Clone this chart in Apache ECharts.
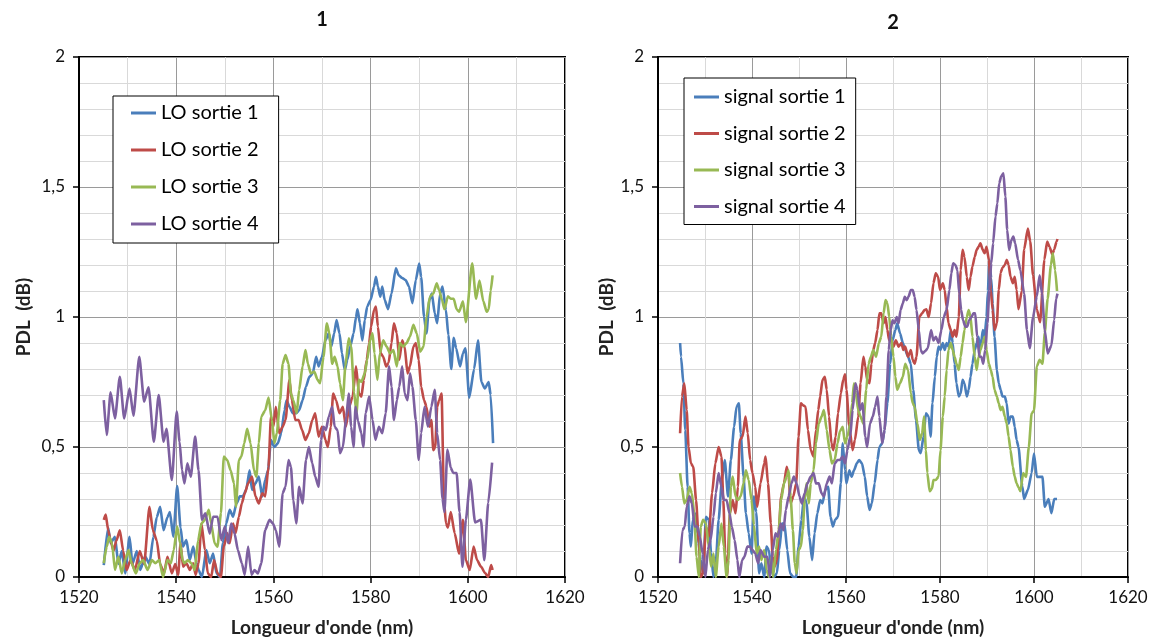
<!DOCTYPE html>
<html>
<head>
<meta charset="utf-8">
<script src="https://cdn.jsdelivr.net/npm/echarts@6/dist/echarts.min.js"></script>
<style>
html,body{margin:0;padding:0;background:#fff;}
#chart{width:1154px;height:642px;}
</style>
</head>
<body>
<div id="chart"></div>
<script>
// ---- axis / label data ----
const panelTitles = ['1', '2'];
const xName = "Longueur d'onde (nm)";
const yName = 'PDL  (dB)';
const loNames = ['LO sortie 1', 'LO sortie 2', 'LO sortie 3', 'LO sortie 4'];
const sigNames = ['signal sortie 1', 'signal sortie 2', 'signal sortie 3', 'signal sortie 4'];

// ---- panel 1 : [wavelength nm, PDL dB] ----
const lo1 = [[1525.1,0.046],[1526.0,0.19],[1526.5,0.13],[1527.4,0.155],[1528.1,0.05],[1528.8,0.10],[1529.5,0.014],[1530.4,0.155],[1531.0,0.05],[1531.9,0.10],[1532.6,0.027],[1533.6,0.08],[1534.5,0.05],[1535.3,0.155],[1536.0,0.23],[1536.7,0.27],[1537.4,0.18],[1538.2,0.23],[1538.7,0.25],[1539.4,0.155],[1540.2,0.35],[1540.9,0.19],[1541.4,0.117],[1542.1,0.142],[1542.8,0.065],[1543.5,0.117],[1544.2,0.053],[1544.6,0.027],[1545.3,0],[1546.2,0.104],[1546.9,0.053],[1547.6,0.09],[1548.3,0.014],[1549.0,0],[1549.6,0.13],[1550.3,0.206],[1551.0,0.258],[1551.7,0.232],[1552.4,0.283],[1553.1,0.31],[1553.7,0.31],[1554.4,0.335],[1555.1,0.41],[1555.6,0.335],[1556.3,0.36],[1557.0,0.386],[1557.7,0.31],[1558.3,0.373],[1558.9,0.41],[1559.5,0.527],[1560.2,0.5],[1560.9,0.514],[1561.6,0.553],[1562.3,0.642],[1562.7,0.68],[1563.3,0.655],[1564.0,0.63],[1564.7,0.63],[1565.3,0.642],[1566.0,0.68],[1566.7,0.732],[1567.4,0.77],[1568.1,0.783],[1568.8,0.847],[1569.3,0.81],[1570.0,0.847],[1570.7,0.91],[1571.4,0.937],[1571.9,0.886],[1572.5,0.937],[1573.0,0.988],[1573.6,0.937],[1574.1,0.86],[1574.7,0.796],[1575.2,0.835],[1575.8,0.886],[1576.5,0.937],[1577.0,1.0],[1577.3,1.03],[1577.8,0.976],[1578.3,0.91],[1578.8,0.988],[1579.3,1.04],[1580.0,1.065],[1580.7,1.117],[1581.1,1.155],[1581.5,1.117],[1582.0,1.078],[1582.4,1.117],[1582.9,1.065],[1583.6,1.03],[1584.3,1.09],[1585.2,1.187],[1585.8,1.16],[1586.5,1.15],[1587.2,1.142],[1587.9,1.117],[1588.6,1.053],[1589.3,1.142],[1590.0,1.206],[1590.4,1.155],[1591.0,1.0],[1591.5,0.937],[1592.1,1.065],[1592.6,1.09],[1593.2,1.014],[1593.7,0.976],[1594.3,1.09],[1594.8,1.117],[1595.5,1.027],[1596.0,0.93],[1596.6,0.80],[1597.1,0.92],[1597.6,0.88],[1598.4,0.81],[1599.0,0.86],[1599.5,0.88],[1600.3,0.69],[1601.3,0.80],[1602.1,0.91],[1602.8,0.75],[1603.5,0.725],[1604.3,0.75],[1604.7,0.70],[1605.2,0.515]];

const lo2 = [[1525.1,0.22],[1525.5,0.24],[1526.0,0.18],[1526.5,0.14],[1527.1,0.10],[1527.7,0.14],[1528.4,0.18],[1529.1,0.10],[1529.8,0.027],[1530.6,0.065],[1531.5,0.027],[1532.5,0.10],[1533.4,0.05],[1534.5,0.27],[1535.2,0.18],[1536.0,0.14],[1536.7,0.05],[1537.5,0.014],[1538.2,0.078],[1539.1,0.014],[1539.8,0.05],[1540.4,0.008],[1540.9,0.13],[1541.4,0.04],[1542.1,0.053],[1542.8,0.027],[1543.5,0.053],[1544.0,0.008],[1544.6,0.053],[1545.2,0.206],[1545.9,0.104],[1546.5,0.014],[1547.2,0],[1547.8,0.065],[1548.5,0.014],[1549.2,0],[1549.8,0.117],[1550.5,0.168],[1551.0,0.13],[1551.7,0.206],[1552.2,0.168],[1552.9,0.232],[1553.5,0.283],[1554.1,0.322],[1554.8,0.36],[1555.6,0.386],[1556.3,0.31],[1557.0,0.283],[1557.7,0.322],[1558.3,0.31],[1559.0,0.424],[1559.5,0.617],[1560.0,0.578],[1560.5,0.655],[1561.2,0.553],[1561.9,0.578],[1562.5,0.604],[1563.3,0.758],[1563.8,0.68],[1564.5,0.604],[1565.2,0.604],[1565.9,0.565],[1566.6,0.527],[1567.3,0.553],[1568.0,0.604],[1568.6,0.63],[1569.3,0.54],[1570.0,0.578],[1570.7,0.527],[1571.2,0.5],[1571.8,0.578],[1572.3,0.706],[1572.9,0.68],[1573.6,0.63],[1574.3,0.655],[1574.9,0.578],[1575.6,0.655],[1576.3,0.694],[1577.0,0.81],[1577.6,0.706],[1578.1,0.694],[1578.6,0.758],[1579.2,0.835],[1579.7,0.9],[1580.1,0.963],[1580.7,1.027],[1581.1,1.04],[1581.5,0.963],[1582.1,0.86],[1582.6,0.847],[1583.2,0.81],[1583.7,0.824],[1584.3,0.9],[1584.8,0.976],[1585.4,0.937],[1585.9,0.835],[1586.5,0.91],[1587.0,0.886],[1587.6,0.783],[1588.1,0.81],[1588.8,0.886],[1589.3,0.9],[1589.9,0.835],[1590.4,0.732],[1591.0,0.68],[1591.5,0.655],[1592.1,0.578],[1592.5,0.604],[1592.9,0.488],[1593.3,0.5],[1593.7,0.655],[1594.1,0.68],[1594.6,0.706],[1595.1,0.296],[1595.5,0.206],[1595.9,0.19],[1596.5,0.25],[1597.3,0.168],[1598.2,0.09],[1599.0,0.22],[1599.6,0.065],[1600.4,0.027],[1601.2,0.117],[1601.9,0.065],[1602.7,0.04],[1603.6,0.014],[1604.2,0.0],[1604.8,0.046],[1605.1,0.027]];

const lo3 = [[1525.1,0.053],[1525.7,0.117],[1526.2,0.155],[1526.8,0.13],[1527.4,0.027],[1528.1,0.078],[1528.8,0.014],[1529.5,0.065],[1530.2,0.104],[1530.8,0.053],[1531.7,0.014],[1532.5,0.053],[1533.2,0.065],[1534.1,0.027],[1535.0,0.065],[1535.7,0.053],[1536.5,0.065],[1537.3,0],[1538.2,0.065],[1538.9,0.053],[1539.5,0.104],[1540.2,0.194],[1540.8,0.13],[1541.3,0.065],[1541.7,0.053],[1542.4,0.065],[1543.1,0.053],[1543.8,0.027],[1544.5,0.14],[1545.2,0.206],[1545.9,0.22],[1546.7,0.258],[1547.2,0.206],[1547.9,0.13],[1548.5,0.117],[1549.2,0.245],[1549.8,0.463],[1550.5,0.45],[1551.2,0.41],[1551.9,0.36],[1552.3,0.27],[1552.9,0.45],[1553.4,0.463],[1554.0,0.514],[1554.6,0.57],[1555.3,0.514],[1556.0,0.41],[1556.5,0.386],[1557.0,0.514],[1557.5,0.617],[1558.3,0.64],[1559.0,0.69],[1559.7,0.604],[1560.2,0.514],[1560.7,0.553],[1561.4,0.68],[1561.9,0.82],[1562.5,0.854],[1563.1,0.82],[1563.6,0.706],[1564.1,0.68],[1564.8,0.63],[1565.3,0.72],[1566.0,0.81],[1566.6,0.873],[1567.1,0.82],[1567.7,0.783],[1568.4,0.79],[1569.1,0.758],[1569.6,0.745],[1570.3,0.847],[1571.0,0.976],[1571.5,0.937],[1572.1,0.82],[1572.6,0.847],[1573.2,0.81],[1573.7,0.745],[1574.3,0.68],[1574.8,0.81],[1575.5,0.918],[1576.0,0.886],[1576.6,0.71],[1577.1,0.63],[1577.6,0.758],[1578.1,0.75],[1578.8,0.783],[1579.3,0.835],[1579.9,0.91],[1580.4,0.937],[1580.8,0.86],[1581.4,0.758],[1581.9,0.86],[1582.6,0.91],[1583.3,0.886],[1584.0,0.86],[1584.7,0.873],[1585.4,0.81],[1586.0,0.9],[1586.7,0.886],[1587.4,0.9],[1588.1,0.924],[1588.8,0.97],[1589.5,0.937],[1590.2,0.867],[1590.9,0.886],[1591.5,1.0],[1592.2,1.078],[1592.9,1.09],[1593.6,1.13],[1594.1,1.104],[1594.7,1.065],[1595.2,1.03],[1595.9,1.08],[1596.5,1.07],[1597.1,1.07],[1597.7,1.03],[1598.2,1.02],[1599.0,1.06],[1599.6,0.98],[1600.9,1.207],[1601.7,1.07],[1602.4,1.14],[1603.2,1.06],[1603.9,1.02],[1604.3,1.03],[1604.7,1.1],[1605.1,1.16]];

const lo4 = [[1525.1,0.68],[1525.7,0.546],[1526.5,0.71],[1527.4,0.61],[1528.4,0.77],[1529.3,0.61],[1530.4,0.725],[1531.2,0.62],[1532.4,0.847],[1533.4,0.675],[1534.3,0.73],[1535.4,0.52],[1536.4,0.70],[1537.4,0.52],[1538.0,0.57],[1539.1,0.373],[1540.1,0.636],[1540.7,0.52],[1541.2,0.41],[1541.7,0.36],[1542.3,0.437],[1543.0,0.386],[1543.9,0.54],[1544.6,0.41],[1545.3,0.22],[1546.0,0.245],[1546.9,0.167],[1547.6,0.232],[1548.5,0.232],[1549.3,0.142],[1550.0,0.194],[1550.7,0.13],[1551.3,0.206],[1552.0,0.168],[1552.7,0.103],[1553.5,0.053],[1554.1,0.008],[1554.8,0.117],[1555.5,0.008],[1556.1,0.027],[1556.8,0.014],[1557.5,0.053],[1558.3,0.18],[1559.2,0.22],[1559.9,0.206],[1560.5,0.18],[1561.2,0.117],[1561.9,0.322],[1562.5,0.347],[1563.1,0.45],[1563.6,0.424],[1564.1,0.296],[1564.7,0.206],[1565.3,0.347],[1566.0,0.283],[1566.7,0.45],[1567.3,0.5],[1568.0,0.437],[1568.6,0.386],[1569.3,0.347],[1569.8,0.527],[1570.3,0.578],[1570.8,0.565],[1571.4,0.617],[1572.1,0.655],[1572.6,0.578],[1573.2,0.565],[1573.7,0.476],[1574.3,0.5],[1575.0,0.617],[1575.5,0.706],[1576.0,0.578],[1576.5,0.5],[1576.9,0.655],[1577.4,0.6],[1578.1,0.553],[1578.5,0.5],[1579.0,0.63],[1579.7,0.694],[1580.4,0.604],[1581.0,0.527],[1581.7,0.578],[1582.4,0.553],[1583.1,0.63],[1583.8,0.81],[1584.3,0.732],[1584.8,0.604],[1585.4,0.68],[1585.9,0.732],[1586.5,0.81],[1587.0,0.706],[1587.6,0.68],[1588.1,0.783],[1588.6,0.732],[1589.3,0.604],[1589.9,0.45],[1590.4,0.553],[1591.1,0.655],[1591.8,0.578],[1592.5,0.655],[1593.2,0.72],[1593.7,0.553],[1594.3,0.45],[1594.8,0.3],[1595.2,0.25],[1595.8,0.49],[1596.5,0.42],[1597.0,0.40],[1597.7,0.40],[1598.3,0.25],[1598.9,0.04],[1599.6,0.22],[1600.5,0.375],[1601.5,0.21],[1602.7,0.22],[1603.4,0.065],[1604.2,0.285],[1605.0,0.44]];

// ---- panel 2 : [wavelength nm, PDL dB] ----
const sig1 = [[1524.7,0.9],[1524.9,0.847],[1525.4,0.745],[1525.8,0.565],[1526.3,0.347],[1526.7,0.168],[1527.0,0.117],[1527.4,0.22],[1527.9,0.245],[1528.4,0.168],[1529.1,0.065],[1529.6,0.014],[1530.2,0.232],[1530.8,0.22],[1531.3,0.09],[1531.8,0],[1532.3,0.053],[1532.9,0.22],[1533.6,0.373],[1534.2,0.45],[1534.9,0.31],[1535.5,0.45],[1536.2,0.578],[1536.7,0.655],[1537.2,0.668],[1537.6,0.553],[1538.2,0.386],[1538.7,0.245],[1539.3,0.168],[1539.9,0.09],[1540.4,0.31],[1540.9,0.25],[1541.5,0.014],[1542.0,0.053],[1542.6,0],[1543.1,0.117],[1543.6,0.104],[1544.1,0.027],[1544.7,0],[1545.3,0.014],[1545.8,0.104],[1546.4,0.206],[1546.9,0.206],[1547.5,0.104],[1548.1,0.014],[1548.8,0],[1549.4,0],[1549.9,0.117],[1550.5,0.22],[1551.1,0.31],[1551.6,0.283],[1552.2,0.155],[1552.8,0.065],[1553.3,0.168],[1553.9,0.245],[1554.5,0.296],[1555.0,0.283],[1555.6,0.335],[1556.2,0.347],[1556.7,0.232],[1557.2,0.194],[1557.7,0.22],[1558.3,0.232],[1558.9,0.36],[1559.3,0.514],[1559.8,0.41],[1560.1,0.36],[1560.7,0.41],[1561.2,0.386],[1561.7,0.41],[1562.3,0.437],[1562.8,0.45],[1563.4,0.437],[1564.0,0.386],[1564.5,0.31],[1565.0,0.258],[1565.5,0.283],[1566.1,0.36],[1566.7,0.45],[1567.1,0.5],[1567.7,0.514],[1568.2,0.565],[1568.8,0.668],[1569.4,0.82],[1569.9,0.91],[1570.5,0.95],[1570.9,0.976],[1571.5,0.937],[1572.1,0.9],[1572.6,0.873],[1573.2,0.847],[1573.8,0.82],[1574.3,0.72],[1574.9,0.604],[1575.5,0.488],[1575.9,0.476],[1576.5,0.54],[1577.0,0.63],[1577.6,0.617],[1578.0,0.54],[1578.4,0.668],[1578.9,0.77],[1579.3,0.847],[1579.7,0.886],[1580.1,0.873],[1580.6,0.9],[1581.0,0.873],[1581.4,0.9],[1581.8,0.886],[1582.3,0.95],[1582.7,0.9],[1583.1,0.82],[1583.5,0.745],[1584.0,0.694],[1584.4,0.706],[1584.8,0.758],[1585.2,0.745],[1585.7,0.694],[1586.1,0.72],[1586.5,0.77],[1586.9,0.82],[1587.4,0.873],[1587.8,0.9],[1588.2,0.924],[1588.6,0.873],[1589.1,0.95],[1589.5,0.924],[1589.9,1.0],[1590.2,1.1],[1590.5,1.22],[1590.9,1.15],[1591.2,1.05],[1591.6,0.924],[1592.1,0.796],[1592.5,0.745],[1592.9,0.72],[1593.3,0.694],[1593.8,0.694],[1594.2,0.668],[1594.6,0.59],[1595.0,0.617],[1595.5,0.617],[1595.9,0.578],[1596.3,0.527],[1596.7,0.5],[1597.5,0.35],[1597.9,0.3],[1598.7,0.335],[1599.5,0.4],[1600.0,0.475],[1600.6,0.385],[1601.2,0.385],[1601.8,0.385],[1602.3,0.27],[1603.1,0.3],[1603.7,0.245],[1604.3,0.3],[1604.9,0.3]];

const sig2 = [[1524.7,0.553],[1525.1,0.694],[1525.6,0.745],[1526.1,0.642],[1526.5,0.5],[1527.0,0.437],[1527.5,0.424],[1528.1,0.296],[1528.7,0.13],[1529.1,0],[1529.6,0.014],[1530.2,0.194],[1530.8,0.155],[1531.5,0.322],[1532.2,0.437],[1532.9,0.5],[1533.5,0.463],[1533.9,0.296],[1534.3,0.09],[1534.7,0],[1535.3,0.245],[1535.9,0.296],[1536.5,0.245],[1537.0,0.347],[1537.4,0.527],[1538.0,0.54],[1538.6,0.617],[1539.1,0.553],[1539.6,0.45],[1540.1,0.4],[1540.7,0.347],[1541.1,0.27],[1541.8,0.36],[1542.6,0.437],[1542.9,0.463],[1543.4,0.36],[1544.0,0.206],[1544.4,0.078],[1544.8,0.04],[1545.3,0.065],[1545.7,0.18],[1546.2,0.31],[1546.8,0.36],[1547.4,0.424],[1547.8,0.386],[1548.2,0.283],[1548.8,0.31],[1549.4,0.36],[1549.9,0.54],[1550.4,0.668],[1550.9,0.66],[1551.4,0.655],[1551.9,0.565],[1552.5,0.488],[1553.1,0.463],[1553.6,0.565],[1554.1,0.642],[1554.5,0.694],[1555.0,0.758],[1555.5,0.77],[1555.9,0.72],[1556.4,0.617],[1556.9,0.514],[1557.3,0.488],[1557.8,0.54],[1558.3,0.63],[1558.9,0.706],[1559.4,0.758],[1559.8,0.78],[1560.1,0.72],[1560.7,0.578],[1561.4,0.488],[1561.9,0.527],[1562.6,0.617],[1563.1,0.745],[1563.7,0.847],[1564.1,0.81],[1564.5,0.758],[1565.0,0.745],[1565.4,0.82],[1565.8,0.873],[1566.2,0.9],[1566.7,0.95],[1567.1,1.014],[1567.5,1.014],[1568.0,0.976],[1568.4,1.0],[1568.8,0.95],[1569.2,0.91],[1569.6,0.91],[1570.1,0.886],[1570.6,0.91],[1571.2,0.886],[1571.8,0.9],[1572.2,0.873],[1572.6,0.886],[1573.2,0.847],[1573.8,0.873],[1574.2,0.835],[1574.6,0.82],[1575.0,0.847],[1575.6,1.0],[1576.2,1.014],[1576.7,1.027],[1577.1,1.03],[1577.6,1.0],[1578.1,1.053],[1578.6,1.13],[1579.1,1.168],[1579.6,1.155],[1580.0,1.104],[1580.6,1.13],[1581.0,1.104],[1581.4,1.04],[1581.8,0.976],[1582.3,0.95],[1582.7,0.924],[1583.1,0.95],[1583.5,0.924],[1584.0,1.0],[1584.4,1.18],[1584.8,1.258],[1585.2,1.232],[1585.7,1.155],[1586.1,1.104],[1586.5,1.155],[1586.9,1.194],[1587.4,1.232],[1587.8,1.258],[1588.2,1.27],[1588.6,1.283],[1589.1,1.258],[1589.5,1.245],[1589.9,1.27],[1590.4,1.22],[1590.8,1.104],[1591.2,1.027],[1591.6,0.95],[1592.1,0.976],[1592.5,1.104],[1592.9,1.17],[1593.3,1.19],[1593.8,1.2],[1594.2,1.22],[1594.6,1.2],[1595.0,1.155],[1595.5,1.13],[1595.9,1.155],[1596.3,1.104],[1596.7,1.03],[1597.4,1.1],[1597.9,1.26],[1598.7,1.34],[1599.2,1.29],[1599.8,1.16],[1600.6,1.03],[1601.3,0.98],[1602.2,1.22],[1602.8,1.29],[1603.3,1.27],[1603.9,1.24],[1604.3,1.26],[1604.8,1.29],[1605.0,1.3]];

const sig3 = [[1524.7,0.4],[1525.1,0.347],[1525.6,0.283],[1526.1,0.296],[1526.7,0.347],[1527.2,0.322],[1527.7,0.245],[1528.2,0.078],[1528.7,0],[1529.1,0.194],[1529.6,0.22],[1530.2,0.206],[1530.8,0.117],[1531.3,0.04],[1531.8,0.09],[1532.3,0],[1532.9,0.117],[1533.5,0.206],[1534.0,0.117],[1534.6,0],[1535.0,0.065],[1535.5,0.347],[1535.9,0.386],[1536.5,0.31],[1537.0,0.296],[1537.6,0.31],[1538.2,0.36],[1538.7,0.41],[1539.3,0.373],[1539.9,0.296],[1540.4,0.2],[1541.0,0.09],[1541.5,0.117],[1542.0,0.065],[1542.6,0.104],[1543.1,0.027],[1543.6,0],[1544.1,0.078],[1544.5,0],[1545.1,0.104],[1545.7,0.18],[1546.2,0.296],[1546.8,0.36],[1547.4,0.386],[1547.8,0.41],[1548.2,0.31],[1548.7,0.18],[1549.1,0.053],[1549.5,0.014],[1549.9,0.104],[1550.4,0.117],[1550.8,0.18],[1551.2,0.296],[1551.6,0.36],[1552.1,0.283],[1552.5,0.36],[1553.1,0.41],[1553.6,0.514],[1554.2,0.59],[1554.8,0.617],[1555.3,0.642],[1555.9,0.565],[1556.5,0.488],[1557.0,0.437],[1557.6,0.45],[1558.2,0.514],[1558.7,0.56],[1559.3,0.578],[1559.8,0.514],[1560.3,0.54],[1560.9,0.59],[1561.3,0.668],[1561.7,0.745],[1562.1,0.706],[1562.6,0.642],[1563.1,0.617],[1563.7,0.59],[1564.3,0.72],[1564.8,0.82],[1565.3,0.847],[1565.8,0.873],[1566.4,0.847],[1567.0,0.9],[1567.5,0.924],[1568.0,1.014],[1568.4,1.065],[1568.8,1.053],[1569.2,1.0],[1569.6,0.924],[1570.1,0.847],[1570.5,0.77],[1570.9,0.72],[1571.5,0.745],[1572.1,0.77],[1572.6,0.82],[1573.2,0.796],[1573.8,0.706],[1574.2,0.668],[1574.6,0.655],[1575.2,0.59],[1575.7,0.527],[1576.2,0.553],[1576.6,0.617],[1577.0,0.488],[1577.3,0.4],[1577.8,0.33],[1578.3,0.34],[1578.6,0.373],[1579.1,0.373],[1579.7,0.386],[1580.1,0.488],[1580.6,0.617],[1581.0,0.694],[1581.4,0.796],[1581.8,0.873],[1582.3,0.9],[1582.7,0.873],[1583.1,0.847],[1583.5,0.82],[1584.0,0.796],[1584.4,0.847],[1584.8,0.9],[1585.2,0.95],[1585.7,1.0],[1586.1,1.027],[1586.5,1.0],[1586.9,0.924],[1587.4,0.847],[1587.8,0.796],[1588.2,0.847],[1588.6,0.873],[1589.1,0.9],[1589.5,0.924],[1589.9,0.873],[1590.4,0.82],[1590.8,0.796],[1591.2,0.77],[1591.6,0.72],[1592.1,0.694],[1592.5,0.668],[1592.9,0.642],[1593.3,0.655],[1593.8,0.617],[1594.2,0.59],[1594.6,0.54],[1595.0,0.488],[1595.5,0.424],[1595.9,0.386],[1596.3,0.36],[1596.7,0.345],[1597.1,0.33],[1597.7,0.4],[1598.3,0.385],[1598.9,0.5],[1599.5,0.63],[1600.0,0.64],[1600.6,0.81],[1601.2,0.835],[1601.8,0.82],[1602.3,0.94],[1602.9,1.07],[1603.6,1.2],[1604.0,1.245],[1604.5,1.18],[1604.9,1.1]];

const sig4 = [[1524.7,0.053],[1525.2,0.18],[1525.7,0.194],[1526.1,0.27],[1526.7,0.31],[1527.2,0.283],[1527.8,0.194],[1528.4,0.194],[1528.9,0.155],[1529.5,0.09],[1530.1,0],[1530.6,0.104],[1531.2,0.142],[1531.8,0.232],[1532.3,0.322],[1532.9,0.4],[1533.5,0.347],[1534.0,0.296],[1534.6,0.296],[1535.2,0.245],[1535.7,0.194],[1536.3,0.142],[1536.9,0.065],[1537.3,0],[1537.9,0.065],[1538.4,0.078],[1539.0,0.117],[1539.6,0.117],[1540.1,0.104],[1540.7,0.09],[1541.3,0.053],[1541.8,0.104],[1542.6,0.078],[1543.3,0.078],[1543.8,0],[1544.4,0.104],[1545.0,0.168],[1545.5,0.155],[1546.1,0.206],[1546.7,0.18],[1547.2,0.258],[1547.8,0.31],[1548.4,0.36],[1548.9,0.386],[1549.5,0.36],[1550.1,0.31],[1550.6,0.283],[1551.2,0.322],[1551.8,0.36],[1552.5,0.386],[1553.1,0.4],[1553.6,0.36],[1554.2,0.36],[1554.8,0.322],[1555.3,0.31],[1555.9,0.36],[1556.5,0.386],[1557.0,0.36],[1557.6,0.437],[1558.2,0.45],[1558.7,0.45],[1559.3,0.463],[1559.8,0.437],[1560.3,0.488],[1560.9,0.54],[1561.4,0.642],[1562.0,0.745],[1562.4,0.72],[1563.0,0.642],[1563.5,0.668],[1564.1,0.54],[1564.5,0.5],[1565.1,0.59],[1565.7,0.617],[1566.2,0.655],[1566.7,0.694],[1567.1,0.617],[1567.7,0.514],[1568.2,0.565],[1568.6,0.694],[1569.1,0.873],[1569.5,0.95],[1569.9,0.987],[1570.3,0.976],[1570.8,1.0],[1571.2,0.976],[1571.6,1.027],[1572.1,1.053],[1572.5,1.078],[1572.9,1.065],[1573.3,1.078],[1573.8,1.104],[1574.2,1.104],[1574.6,1.078],[1575.0,1.027],[1575.5,0.95],[1575.9,0.873],[1576.3,0.86],[1576.9,0.87],[1577.4,0.88],[1578.1,0.95],[1578.6,0.91],[1579.1,0.924],[1579.7,0.9],[1580.3,0.95],[1580.8,1.0],[1581.4,1.027],[1582.0,1.104],[1582.4,1.168],[1582.8,1.207],[1583.3,1.2],[1583.7,1.18],[1584.1,1.09],[1584.5,1.027],[1584.9,0.987],[1585.4,0.963],[1585.8,0.963],[1586.2,0.987],[1586.7,1.0],[1587.1,1.014],[1587.5,1.014],[1587.9,0.924],[1588.4,0.847],[1588.8,0.847],[1589.2,0.82],[1589.6,0.873],[1590.1,0.976],[1590.5,1.104],[1590.9,1.207],[1591.3,1.283],[1591.8,1.386],[1592.2,1.437],[1592.6,1.514],[1593.0,1.54],[1593.5,1.553],[1593.9,1.463],[1594.3,1.335],[1594.7,1.258],[1595.2,1.296],[1595.6,1.309],[1596.0,1.283],[1596.6,1.22],[1597.1,1.18],[1597.9,1.09],[1598.5,0.95],[1599.1,0.88],[1599.8,1.0],[1600.6,1.08],[1601.2,1.16],[1601.7,1.09],[1602.3,0.95],[1602.9,0.86],[1603.7,0.89],[1604.3,0.99],[1604.7,1.07],[1605.0,1.09]];

// ---- ticks ----
const xMin = 1520, xMax = 1620, xStep = 20;
const yMin = 0, yMax = 2, yStep = 0.5;

const colors = ['#4A7EBB', '#BE4B48', '#98B954', '#7D60A0'];
const FONT = 'Lato, "Liberation Sans", sans-serif';

function xAxisCfg(gridIndex) {
  return {
    type: 'value', gridIndex, min: xMin, max: xMax, interval: xStep,
    name: xName, nameLocation: 'middle', nameGap: 41,
    nameTextStyle: { fontFamily: FONT, fontWeight: 'bold', fontSize: 19, color: '#222' },
    axisLine: { show: true, onZero: false, lineStyle: { color: '#000', width: 2 } },
    axisTick: { show: true, length: 6, lineStyle: { color: '#000', width: 1.5 } },
    axisLabel: { fontFamily: FONT, fontSize: 17, color: '#111', margin: 12,
      formatter: v => String(v) },
    splitLine: { show: true, lineStyle: { color: '#9a9a9a', width: 1 } },
    minorTick: { show: false, splitNumber: 2 },
    minorSplitLine: { show: true, lineStyle: { color: '#d9d9d9', width: 1 } }
  };
}
function yAxisCfg(gridIndex, gap) {
  return {
    type: 'value', gridIndex, min: yMin, max: yMax, interval: yStep,
    name: yName, nameLocation: 'middle', nameGap: gap,
    nameTextStyle: { fontFamily: FONT, fontWeight: 'bold', fontSize: 19, color: '#222' },
    axisLine: { show: true, lineStyle: { color: '#000', width: 2 } },
    axisTick: { show: true, length: 6, lineStyle: { color: '#000', width: 1.5 } },
    axisLabel: { fontFamily: FONT, fontSize: 17, color: '#111', margin: 14,
      formatter: v => String(v).replace('.', ',') },
    splitLine: { show: true, lineStyle: { color: '#9a9a9a', width: 1 } },
    minorTick: { show: false, splitNumber: 5 },
    minorSplitLine: { show: true, lineStyle: { color: '#d9d9d9', width: 1 } }
  };
}
function lineSeries(name, data, idx, axisIdx) {
  return {
    name, type: 'line', data, xAxisIndex: axisIdx, yAxisIndex: axisIdx,
    showSymbol: false, symbol: 'none', smooth: 0.2, smoothMonotone: 'x',
    color: colors[idx],
    lineStyle: { color: colors[idx], width: 2.6 },
    z: 2 + idx, animation: false, clip: true
  };
}
function legendCfg(names, left, top, padding, gap) {
  return {
    data: names, orient: 'vertical', left, top, padding, itemGap: gap,
    itemWidth: 25, itemHeight: 3, icon: 'rect',
    backgroundColor: '#fff', borderColor: '#000', borderWidth: 1,
    textStyle: { fontFamily: FONT, fontSize: 20, color: '#000', lineHeight: 24 },
    selectedMode: false
  };
}

const chart = echarts.init(document.getElementById('chart'), null, { renderer: 'canvas' });
chart.setOption({
  backgroundColor: '#fff',
  animation: false,
  graphic: [
    { type: 'text', x: 322, y: 20, style: { text: panelTitles[0], font: 'bold 20px ' + FONT, textAlign: 'center', textVerticalAlign: 'middle', fill: '#111' } },
    { type: 'text', x: 893, y: 23, style: { text: panelTitles[1], font: 'bold 20px ' + FONT, textAlign: 'center', textVerticalAlign: 'middle', fill: '#111' } }
  ],
  grid: [
    { left: 79, top: 57, width: 486, height: 520, show: true, borderColor: '#000', borderWidth: 2, backgroundColor: '#fff' },
    { left: 658, top: 57, width: 470, height: 520, show: true, borderColor: '#000', borderWidth: 2, backgroundColor: '#fff' }
  ],
  legend: [
    legendCfg(loNames, 113, 96, [5, 20, 7, 18], 13),
    legendCfg(sigNames, 684, 78, [7, 10, 6, 10], 12.5)
  ],
  xAxis: [xAxisCfg(0), xAxisCfg(1)],
  yAxis: [yAxisCfg(0, 46), yAxisCfg(1, 40)],
  series: [
    lineSeries(loNames[0], lo1, 0, 0),
    lineSeries(loNames[1], lo2, 1, 0),
    lineSeries(loNames[2], lo3, 2, 0),
    lineSeries(loNames[3], lo4, 3, 0),
    lineSeries(sigNames[0], sig1, 0, 1),
    lineSeries(sigNames[1], sig2, 1, 1),
    lineSeries(sigNames[2], sig3, 2, 1),
    lineSeries(sigNames[3], sig4, 3, 1)
  ]
});
</script>
</body>
</html>
